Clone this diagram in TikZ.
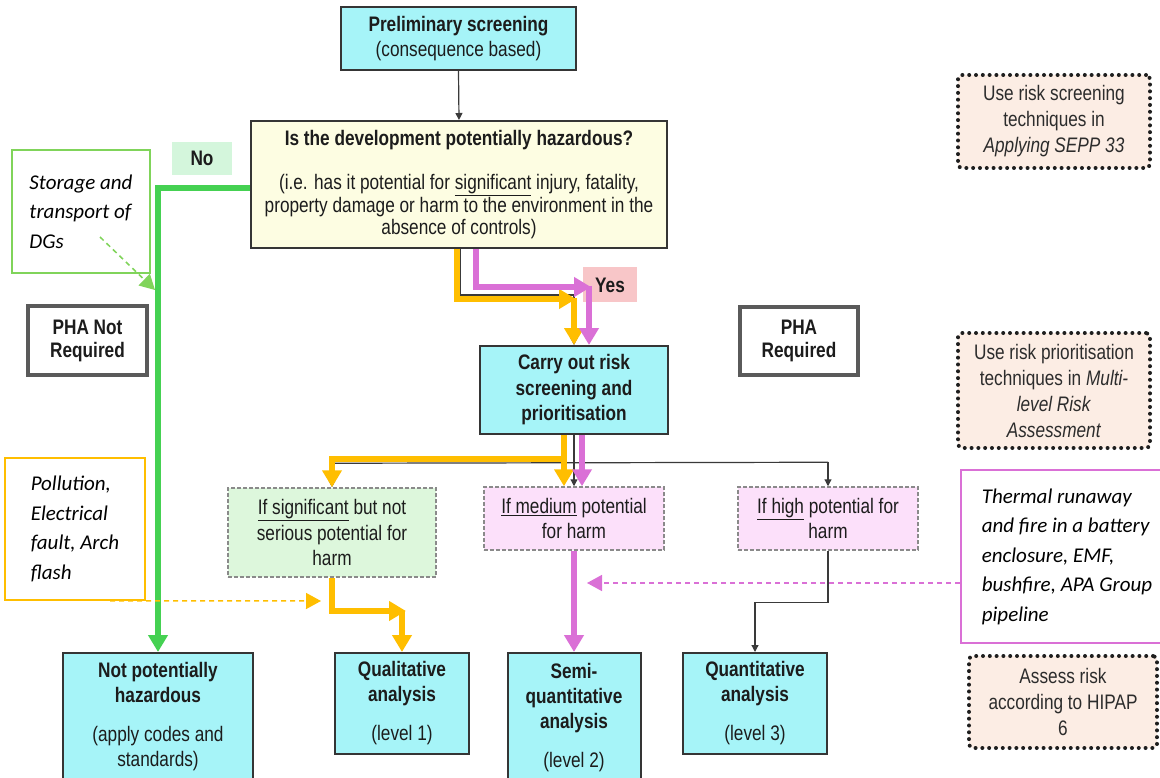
\documentclass[tikz,border=0pt]{standalone}
\usepackage{fontspec}
\setmainfont{Liberation Sans}[FakeStretch=0.82]
\newfontfamily\calfont{Carlito}
\usetikzlibrary{arrows.meta,calc}
\definecolor{cyanbox}{HTML}{A6F4F8}
\definecolor{yelbox}{HTML}{FDFDE2}
\definecolor{boxline}{HTML}{353535}
\definecolor{txtcol}{HTML}{1C1C1C}
\definecolor{nofill}{HTML}{D4F6DC}
\definecolor{yesfill}{HTML}{F8C6C8}
\definecolor{sigfill}{HTML}{DDF7DC}
\definecolor{medfill}{HTML}{FCE0FA}
\definecolor{optline}{HTML}{8A8A8A}
\definecolor{dotfill}{HTML}{FCEDE4}
\definecolor{dotcol}{HTML}{1E1E1E}
\definecolor{dottxt}{HTML}{2C2C2C}
\definecolor{phacol}{HTML}{5A5A5A}
\definecolor{grn}{HTML}{45D152}
\definecolor{grnnote}{HTML}{80D45A}
\definecolor{org}{HTML}{FFBE00}
\definecolor{pnk}{HTML}{DA70D6}
\definecolor{thincol}{HTML}{3A3A3A}
\tikzset{
  basebox/.style={align=center, inner sep=0pt, text=txtcol, font=\fontsize{21}{25.5}\selectfont},
  cbox/.style={basebox, draw=boxline, line width=2pt, fill=cyanbox},
  ybox/.style={basebox, draw=boxline, line width=2pt, fill=yelbox},
  lbl/.style={basebox},
  pha/.style={basebox, draw=phacol, line width=3.5pt, fill=white, font=\fontsize{21}{23}\selectfont},
  obox/.style={basebox, draw=optline, line width=1.5pt, dash pattern=on 4pt off 2pt},
  dbox/.style={basebox, fill=dotfill, draw=dotcol, line width=4pt, dash pattern=on 0pt off 6.8pt, line cap=round, rounded corners=4pt, text=dottxt, font=\fontsize{21}{26}\selectfont},
  note/.style={align=left, inner sep=0pt, fill=white, line width=1.8pt, text=black, font={\fontsize{21}{29.5}\calfont\itshape}},
  thickarrow/.style={line width=6pt, -{Triangle[width=19pt,length=17pt]}},
  oarrow/.style={thickarrow, draw=org},
  parrow/.style={thickarrow, draw=pnk},
  garrow/.style={thickarrow, draw=grn},
  thinline/.style={draw=thincol, line width=1.2pt},
  thinarrow/.style={thinline, -{Triangle[width=7pt,length=7pt]}},
  notedash/.style={line width=1.5pt, dash pattern=on 5pt off 4pt, -{Triangle[width=16pt,length=15pt]}}
}
\begin{document}
\begin{tikzpicture}[x=1pt,y=-1pt]
\useasboundingbox (0,0) rectangle (1160,778);

% main boxes
\node[cbox, minimum width=235pt, minimum height=63pt] (prelim) at (458.5,38.5)
  {\textbf{Preliminary screening}\\(consequence based)};
\node[ybox, minimum width=416pt, minimum height=127pt, font=\fontsize{21}{22.5}\selectfont] (question) at (459,184.5)
  {\textbf{Is the development potentially hazardous?}\\[22pt](i.e. has it potential for \underline{significant} injury, fatality,\\property damage or harm to the environment in the\\absence of controls)};
\node[lbl, fill=nofill, minimum width=60pt, minimum height=33pt] (no) at (202,158.5) {\textbf{No}};
\node[lbl, fill=yesfill, minimum width=54pt, minimum height=35pt] (yes) at (610,285) {\textbf{Yes}};
\node[cbox, minimum width=188pt, minimum height=88pt] (risk) at (574,390)
  {\textbf{Carry out risk}\\\textbf{screening and}\\\textbf{prioritisation}};
\node[pha, minimum width=119pt, minimum height=69pt] (phan) at (87.5,340.5) {\textbf{PHA Not}\\\textbf{Required}};
\node[pha, minimum width=118pt, minimum height=68pt] (phar) at (799,341) {\textbf{PHA}\\\textbf{Required}};

% dotted guidance boxes
\node[dbox, minimum width=192pt, minimum height=93pt] (guide1) at (1054,121.5)
  {Use risk screening\\techniques in\\\textit{Applying SEPP 33}};
\node[dbox, minimum width=192pt, minimum height=115pt] (guide2) at (1054,390.5)
  {Use risk prioritisation\\techniques in \textit{Multi-}\\\textit{level Risk}\\\textit{Assessment}};
\node[dbox, minimum width=188pt, minimum height=92pt] (guide3) at (1063,702)
  {Assess risk\\according to HIPAP\\6};

% option boxes
\node[obox, fill=sigfill, minimum width=208pt, minimum height=89pt] (sig) at (332,532.5)
  {\underline{If significant} but not\\serious potential for\\harm};
\node[obox, fill=medfill, minimum width=180pt, minimum height=63pt] (medium) at (574,518.5)
  {\underline{If medium} potential\\for harm};
\node[obox, fill=medfill, minimum width=180pt, minimum height=63pt] (high) at (828,518.5)
  {\underline{If high} potential for\\harm};

% bottom boxes
\node[cbox, minimum width=190pt, minimum height=127pt, font=\fontsize{21}{25}\selectfont] (notpot) at (158,716.5)
  {\textbf{Not potentially}\\\textbf{hazardous}\\[14pt](apply codes and\\standards)};
\node[cbox, minimum width=134pt, minimum height=101pt, font=\fontsize{21}{25}\selectfont] (qual) at (402,703.5)
  {\textbf{Qualitative}\\\textbf{analysis}\\[14pt](level 1)};
\node[cbox, minimum width=133pt, minimum height=129pt, font=\fontsize{21}{25}\selectfont] (semi) at (574,717.5)
  {\textbf{Semi-}\\\textbf{quantitative}\\\textbf{analysis}\\[14pt](level 2)};
\node[cbox, minimum width=144pt, minimum height=101pt, font=\fontsize{21}{25}\selectfont] (quant) at (755,703.5)
  {\textbf{Quantitative}\\\textbf{analysis}\\[14pt](level 3)};

% annotation notes
\node[note, draw=grnnote, minimum width=138pt, minimum height=123pt] (storage) at (81,211.5)
  {Storage and\\transport of\\DGs};
\node[note, draw=org, minimum width=140pt, minimum height=142pt] (poll) at (75,529)
  {Pollution,\\Electrical\\fault, Arch\\flash};
\node[note, draw=pnk, minimum width=212pt, minimum height=173pt] (thermal) at (1067,556.5)
  {Thermal runaway\\and fire in a battery\\enclosure, EMF,\\bushfire, APA Group\\pipeline};

% free ends
\coordinate (oYes) at (576,299);
\coordinate (pYes) at (591,287);
\coordinate (gStart) at (100,237);
\coordinate (gTip) at (155,290);
\coordinate (oTip) at (321,601);
\coordinate (pTip) at (587,583);

% thin black connectors
\draw[thinarrow] (prelim.south) -- (question.north);
\draw[thinarrow] ([xshift=1pt]question.south) |- ($(risk.north)+(0,-50)$) -- (risk.north);
\draw[thinarrow] (risk.south) -- (medium.north);
\draw[thinline] ($(sig.north)+(0,-24)$) -- ($(high.north)+(0,-24)$);
\draw[thinarrow] ($(sig.north)+(0,-24)$) -- (sig.north);
\draw[thinarrow] ($(high.north)+(0,-24)$) -- (high.north);
\draw[thinarrow] (high.south) -- ++(0,52) -| (quant.north);

% green path (No)
\draw[garrow] ([yshift=-3.5pt]question.west) -| (notpot.north);

% orange path
\draw[oarrow] ([xshift=-2pt]question.south) |- (oYes);
\draw[oarrow] ($(risk.north)+(0,-47)$) -- (risk.north);
\draw[oarrow] ([xshift=-10pt]risk.south) -- ([xshift=-10pt]risk.south |- medium.north);
\draw[oarrow] ([xshift=-10pt]risk.south) |- ($(sig.north)+(0,-28)$) -- (sig.north);
\draw[oarrow] (sig.south) |- ($(qual.north)+(4,-41)$);
\draw[oarrow] ($(qual.north)+(0,-41)$) -- (qual.north);

% pink path
\draw[parrow] ([xshift=17pt]question.south) |- (pYes);
\draw[parrow] ($(risk.north)+(15,-59)$) -- ([xshift=15pt]risk.north);
\draw[parrow] ([xshift=8pt]risk.south) -- ([xshift=8pt]risk.south |- medium.north);
\draw[parrow] (medium.south) -- (semi.north);

% dashed note arrows
\draw[notedash, draw=grnnote] (gStart) -- (gTip);
\draw[notedash, draw=org] ([xshift=35pt]poll.south) -- (oTip);
\draw[notedash, draw=pnk] (thermal.west |- pTip) -- (pTip);
\end{tikzpicture}
\end{document}
